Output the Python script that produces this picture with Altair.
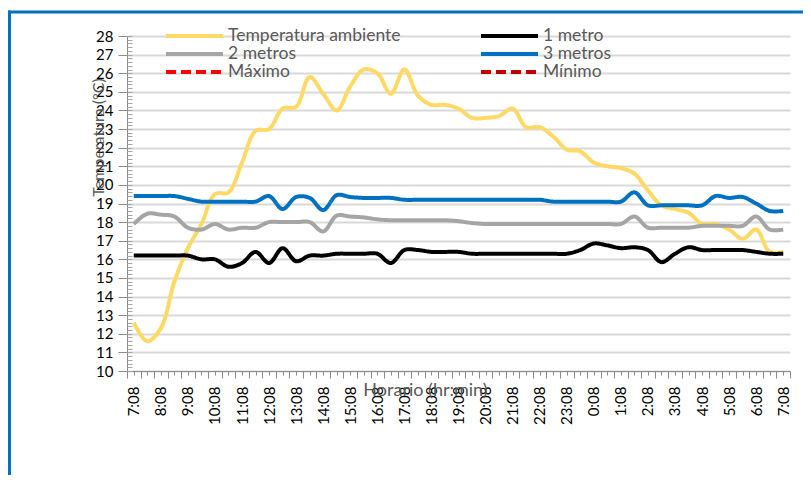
import json
import altair as alt
import pandas as pd

# ---------------- data ----------------
horario = ["7:08", "7:38", "8:08", "8:38", "9:08", "9:38", "10:08", "10:38", "11:08", "11:38",
           "12:08", "12:38", "13:08", "13:38", "14:08", "14:38", "15:08", "15:38", "16:08", "16:38",
           "17:08", "17:38", "18:08", "18:38", "19:08", "19:38", "20:08", "20:38", "21:08", "21:38",
           "22:08", "22:38", "23:08", "23:38", "0:08", "0:38", "1:08", "1:38", "2:08", "2:38",
           "3:08", "3:38", "4:08", "4:38", "5:08", "5:38", "6:08", "6:38", "7:08"]

temp_ambiente = [12.6, 11.6, 12.3, 14.8, 16.6, 17.9, 19.5, 19.6, 21.2, 22.9,
                 23.0, 24.1, 24.2, 25.8, 24.9, 24.0, 25.3, 26.2, 26.0, 24.9,
                 26.2, 24.8, 24.3, 24.3, 24.1, 23.6, 23.6, 23.7, 24.1, 23.1,
                 23.1, 22.6, 21.9, 21.8, 21.2, 21.0, 20.9, 20.6, 19.7, 18.9,
                 18.7, 18.5, 17.9, 17.9, 17.6, 17.1, 17.6, 16.4, 16.4]

metro_1 = [16.2, 16.2, 16.2, 16.2, 16.2, 16.0, 16.0, 15.6, 15.8, 16.4,
           15.8, 16.6, 15.9, 16.2, 16.2, 16.3, 16.3, 16.3, 16.3, 15.8,
           16.5, 16.5, 16.4, 16.4, 16.4, 16.3, 16.3, 16.3, 16.3, 16.3,
           16.3, 16.3, 16.3, 16.5, 16.85, 16.75, 16.6, 16.65, 16.5, 15.85,
           16.3, 16.65, 16.5, 16.5, 16.5, 16.5, 16.4, 16.3, 16.3]

metros_2 = [17.9, 18.45, 18.4, 18.3, 17.7, 17.6, 17.9, 17.6, 17.7, 17.7,
            18.0, 18.0, 18.0, 18.0, 17.5, 18.35, 18.3, 18.25, 18.15, 18.1,
            18.1, 18.1, 18.1, 18.1, 18.05, 17.95, 17.9, 17.9, 17.9, 17.9,
            17.9, 17.9, 17.9, 17.9, 17.9, 17.9, 17.9, 18.3, 17.7, 17.7,
            17.7, 17.7, 17.8, 17.8, 17.8, 17.8, 18.3, 17.6, 17.6]

metros_3 = [19.4, 19.4, 19.4, 19.4, 19.25, 19.1, 19.1, 19.1, 19.1, 19.1,
            19.4, 18.7, 19.35, 19.3, 18.65, 19.45, 19.35, 19.3, 19.3, 19.3,
            19.2, 19.2, 19.2, 19.2, 19.2, 19.2, 19.2, 19.2, 19.2, 19.2,
            19.2, 19.1, 19.1, 19.1, 19.1, 19.1, 19.1, 19.6, 18.9, 18.9,
            18.9, 18.9, 18.9, 19.4, 19.3, 19.35, 19.0, 18.6, 18.6]

# legend order (filled column by column: left column first, then right column)
series = ["Temperatura ambiente", "2 metros", "Máximo", "1 metro", "3 metros", "Mínimo"]
colores = ["#FFD966", "#A5A5A5", "#FF0000", "#000000", "#0070C0", "#C00000"]
trazos = [[1, 0], [1, 0], [10, 5], [1, 0], [1, 0], [10, 5]]

etiquetas_x = horario[::2]

# ---------------- table ----------------
rows = []
for name, vals in [("Temperatura ambiente", temp_ambiente), ("1 metro", metro_1),
                   ("2 metros", metros_2), ("3 metros", metros_3)]:
    for i, (lab, v) in enumerate(zip(horario, vals)):
        rows.append({"serie": name, "h": i * 0.5, "hora": lab, "temp": v})
df = pd.DataFrame(rows)

W, H = 663, 335
FONT = "Lato"

x_values = [-0.25 + 0.25 * k for k in range(99)]
label_expr = "datum.value % 1 == 0 ? " + json.dumps(etiquetas_x) + "[datum.value] : ''"

leg = alt.Legend(title=None, orient="none", legendX=37, legendY=-9, columns=2,
                 symbolType="stroke", symbolSize=3249, symbolStrokeWidth=4,
                 clipHeight=18, labelFont=FONT, labelFontSize=17.5, labelColor="#595959",
                 columnPadding=78, rowPadding=0, labelOffset=3, labelLimit=400)

yscale = alt.Scale(domain=[10, 28], nice=False, zero=False)

lines = alt.Chart(df).mark_line(strokeWidth=4, interpolate="catmull-rom").encode(
    x=alt.X("h:Q", scale=alt.Scale(domain=[-0.25, 24.25], nice=False, zero=False),
            axis=alt.Axis(values=x_values, labelExpr=label_expr, labelAngle=270,
                          labelFont=FONT, labelFontSize=15, labelColor="#000000",
                          labelPadding=11, labelOverlap=False, labelFlush=False, labelBound=False,
                          tickSize={"condition": {"test": "datum.value % 0.5 != 0", "value": 7}, "value": 4},
                          tickColor="#8C8C8C", domainColor="#8C8C8C", tickWidth=1, domainWidth=1,
                          grid=False, title="Horario (hr:min)", titleFont=FONT, titleFontSize=18,
                          titleFontWeight="normal", titleColor="#595959", titleX=298, titleY=19,
                          titleBaseline="middle")),
    y=alt.Y("temp:Q", scale=yscale,
            axis=alt.Axis(orient="left", values=list(range(10, 29)), tickSize=9,
                          tickColor="#8C8C8C", domainColor="#8C8C8C",
                          grid=True, gridColor="#D9D9D9", gridWidth=2,
                          labelFont=FONT, labelFontSize=15, labelColor="#000000", labelPadding=5,
                          title="Temperatura (°C)", titleFont=FONT, titleFontSize=16,
                          titleFontWeight="normal", titleColor="#595959",
                          titleX=-29, titleY=101, titleAngle=270, titleBaseline="middle")),
    color=alt.Color("serie:N", scale=alt.Scale(domain=series, range=colores), legend=leg),
    strokeDash=alt.StrokeDash("serie:N", scale=alt.Scale(domain=series, range=trazos), legend=leg),
)

minor = alt.Chart(df).mark_point(opacity=0).encode(
    y=alt.Y("temp:Q", scale=yscale,
            axis=alt.Axis(orient="right", offset=-W, values=[10 + 0.2 * k for k in range(91)],
                          tickSize=5, tickColor="#A6A6A6", labels=False, domain=False,
                          grid=False, title=None)),
)

frame_df = pd.DataFrame({"k": [0]})
top_border = alt.Chart(frame_df).mark_rule(color="#0070C0", strokeWidth=3).encode(
    x=alt.value(-119), x2=alt.value(W + 40), y=alt.value(-24))
left_border = alt.Chart(frame_df).mark_rule(color="#0070C0", strokeWidth=3).encode(
    x=alt.value(-117.5), y=alt.value(-25.5), y2=alt.value(H + 140))

chart = alt.layer(lines, minor, top_border, left_border).resolve_axis(y="independent").properties(
    width=W, height=H,
    autosize=alt.AutoSizeParams(type="none"),
    padding={"left": 119, "top": 28, "right": 13, "bottom": 104},
    background="white",
).configure_view(stroke=None)

chart.save("out.html", embed_options={"renderer": "svg", "actions": False})
